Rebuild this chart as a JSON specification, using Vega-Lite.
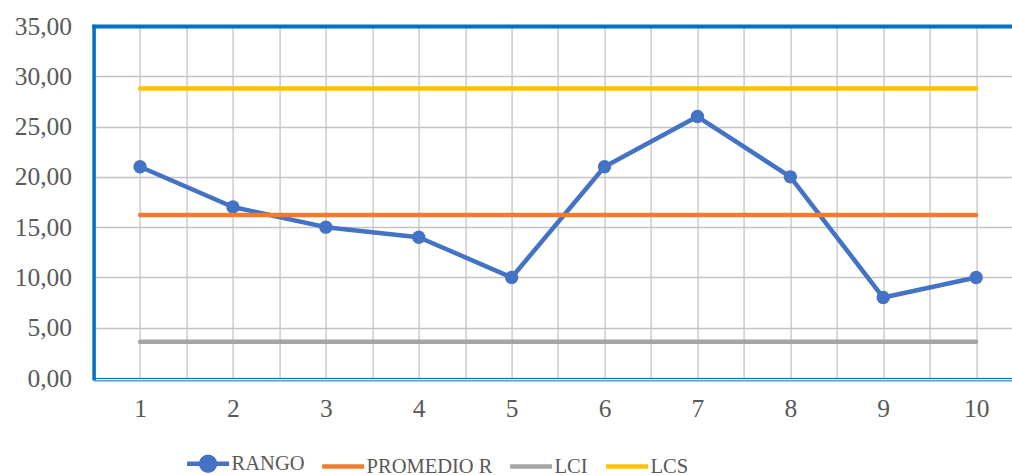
{
  "$schema": "https://vega.github.io/schema/vega-lite/v6.json",
  "autosize": {"type": "none"},
  "width": 918.4,
  "height": 352,
  "padding": {"left": 93.6, "top": 26, "right": 0, "bottom": 97},
  "background": "white",
  "config": {
    "view": {"stroke": null},
    "font": "Liberation Serif",
    "axis": {
      "labelFont": "Liberation Serif",
      "labelFontSize": 25.5,
      "labelColor": "#595959",
      "ticks": false,
      "title": null,
      "gridColor": "#C4C4C4",
      "gridWidth": 1.3,
      "domainCap": "square"
    },
    "legend": {
      "labelFont": "Liberation Serif",
      "labelFontSize": 20.5,
      "labelColor": "#595959",
      "padding": 0
    }
  },
  "data": {
    "values": [
      {"n": 1, "serie": "RANGO", "valor": 21},
      {"n": 2, "serie": "RANGO", "valor": 17},
      {"n": 3, "serie": "RANGO", "valor": 15},
      {"n": 4, "serie": "RANGO", "valor": 14},
      {"n": 5, "serie": "RANGO", "valor": 10},
      {"n": 6, "serie": "RANGO", "valor": 21},
      {"n": 7, "serie": "RANGO", "valor": 26},
      {"n": 8, "serie": "RANGO", "valor": 20},
      {"n": 9, "serie": "RANGO", "valor": 8},
      {"n": 10, "serie": "RANGO", "valor": 10},
      {"n": 1, "serie": "PROMEDIO R", "valor": 16.2},
      {"n": 2, "serie": "PROMEDIO R", "valor": 16.2},
      {"n": 3, "serie": "PROMEDIO R", "valor": 16.2},
      {"n": 4, "serie": "PROMEDIO R", "valor": 16.2},
      {"n": 5, "serie": "PROMEDIO R", "valor": 16.2},
      {"n": 6, "serie": "PROMEDIO R", "valor": 16.2},
      {"n": 7, "serie": "PROMEDIO R", "valor": 16.2},
      {"n": 8, "serie": "PROMEDIO R", "valor": 16.2},
      {"n": 9, "serie": "PROMEDIO R", "valor": 16.2},
      {"n": 10, "serie": "PROMEDIO R", "valor": 16.2},
      {"n": 1, "serie": "LCI", "valor": 3.61},
      {"n": 2, "serie": "LCI", "valor": 3.61},
      {"n": 3, "serie": "LCI", "valor": 3.61},
      {"n": 4, "serie": "LCI", "valor": 3.61},
      {"n": 5, "serie": "LCI", "valor": 3.61},
      {"n": 6, "serie": "LCI", "valor": 3.61},
      {"n": 7, "serie": "LCI", "valor": 3.61},
      {"n": 8, "serie": "LCI", "valor": 3.61},
      {"n": 9, "serie": "LCI", "valor": 3.61},
      {"n": 10, "serie": "LCI", "valor": 3.61},
      {"n": 1, "serie": "LCS", "valor": 28.79},
      {"n": 2, "serie": "LCS", "valor": 28.79},
      {"n": 3, "serie": "LCS", "valor": 28.79},
      {"n": 4, "serie": "LCS", "valor": 28.79},
      {"n": 5, "serie": "LCS", "valor": 28.79},
      {"n": 6, "serie": "LCS", "valor": 28.79},
      {"n": 7, "serie": "LCS", "valor": 28.79},
      {"n": 8, "serie": "LCS", "valor": 28.79},
      {"n": 9, "serie": "LCS", "valor": 28.79},
      {"n": 10, "serie": "LCS", "valor": 28.79}
    ]
  },
  "resolve": {"axis": {"x": "independent", "y": "independent"}},
  "layer": [
    {
      "transform": [{"filter": "datum.serie === 'RANGO'"}],
      "mark": {"type": "line", "color": "#4472C4", "strokeWidth": 4.5, "strokeCap": "round", "strokeJoin": "round"},
      "encoding": {
        "x": {
          "field": "n", "type": "quantitative",
          "scale": {"domain": [0.5, 10.386], "nice": false, "zero": false},
          "axis": {
            "orient": "bottom",
            "values": [0.5, 1, 1.5, 2, 2.5, 3, 3.5, 4, 4.5, 5, 5.5, 6, 6.5, 7, 7.5, 8, 8.5, 9, 9.5, 10],
            "labelExpr": "datum.value % 1 === 0 ? datum.value : ''",
            "labelOverlap": false,
            "labelBaseline": "top",
            "labelPadding": 18,
            "grid": true,
            "domainColor": "#0070C0",
            "domainWidth": 1
          }
        },
        "y": {
          "field": "valor", "type": "quantitative",
          "scale": {"domain": [0, 35], "nice": false},
          "axis": {
            "orient": "left",
            "values": [0, 5, 10, 15, 20, 25, 30, 35],
            "labelExpr": "replace(format(datum.value, '.2f'), '.', ',')",
            "labelPadding": 22,
            "grid": true,
            "domainColor": "#0070C0",
            "domainWidth": 3.5
          }
        }
      }
    },
    {
      "transform": [{"filter": "datum.serie === 'RANGO'"}],
      "mark": {"type": "point", "filled": true, "opacity": 1, "color": "#4472C4", "size": 180},
      "encoding": {
        "x": {
          "field": "n", "type": "quantitative",
          "axis": {"orient": "top", "labels": false, "grid": false, "domainColor": "#0070C0", "domainWidth": 4}
        },
        "y": {"field": "valor", "type": "quantitative", "axis": null}
      }
    },
    {
      "transform": [{"filter": "datum.serie !== 'RANGO'"}],
      "mark": {"type": "line", "strokeWidth": 4.5, "strokeCap": "round"},
      "encoding": {
        "x": {
          "field": "n", "type": "quantitative",
          "axis": {"orient": "bottom", "offset": 2.4, "labels": false, "grid": false, "domainColor": "#0070C0", "domainWidth": 1}
        },
        "y": {"field": "valor", "type": "quantitative", "axis": null},
        "color": {
          "field": "serie", "type": "nominal",
          "scale": {"domain": ["PROMEDIO R", "LCI", "LCS"], "range": ["#ED7D31", "#A5A5A5", "#FFC000"]},
          "legend": null
        }
      }
    },
    {
      "transform": [{"filter": "false"}],
      "mark": {"type": "point", "filled": true, "opacity": 1, "strokeWidth": 4.5},
      "encoding": {
        "x": {"field": "n", "type": "quantitative", "axis": null},
        "y": {"field": "valor", "type": "quantitative", "axis": null},
        "fill": {
          "field": "serie", "type": "nominal",
          "scale": {"domain": ["RANGO", "PROMEDIO R", "LCI", "LCS"], "range": ["#4472C4", "#ED7D31", "#A5A5A5", "#FFC000"]},
          "legend": {"title": null, "orient": "none", "direction": "horizontal", "legendX": 91, "legendY": 414, "symbolSize": 1764, "symbolStrokeWidth": 4.5, "labelOffset": 0, "columnPadding": 8}
        },
        "stroke": {
          "field": "serie", "type": "nominal",
          "scale": {"domain": ["RANGO", "PROMEDIO R", "LCI", "LCS"], "range": ["#4472C4", "#ED7D31", "#A5A5A5", "#FFC000"]},
          "legend": {"title": null, "orient": "none", "direction": "horizontal", "legendX": 91, "legendY": 414, "symbolSize": 1764, "symbolStrokeWidth": 4.5, "labelOffset": 0, "columnPadding": 8}
        },
        "shape": {
          "field": "serie", "type": "nominal",
          "scale": {
            "domain": ["RANGO", "PROMEDIO R", "LCI", "LCS"],
            "range": [
              "M-1,0H1M-0.33,0A0.33,0.33,0,1,0,0.33,0A0.33,0.33,0,1,0,-0.33,0Z",
              "M-1,0H1",
              "M-1,0H1",
              "M-1,0H1"
            ]
          },
          "legend": {"title": null, "orient": "none", "direction": "horizontal", "legendX": 91, "legendY": 414, "symbolSize": 1764, "symbolStrokeWidth": 4.5, "labelOffset": 0, "columnPadding": 8}
        }
      }
    }
  ]
}
